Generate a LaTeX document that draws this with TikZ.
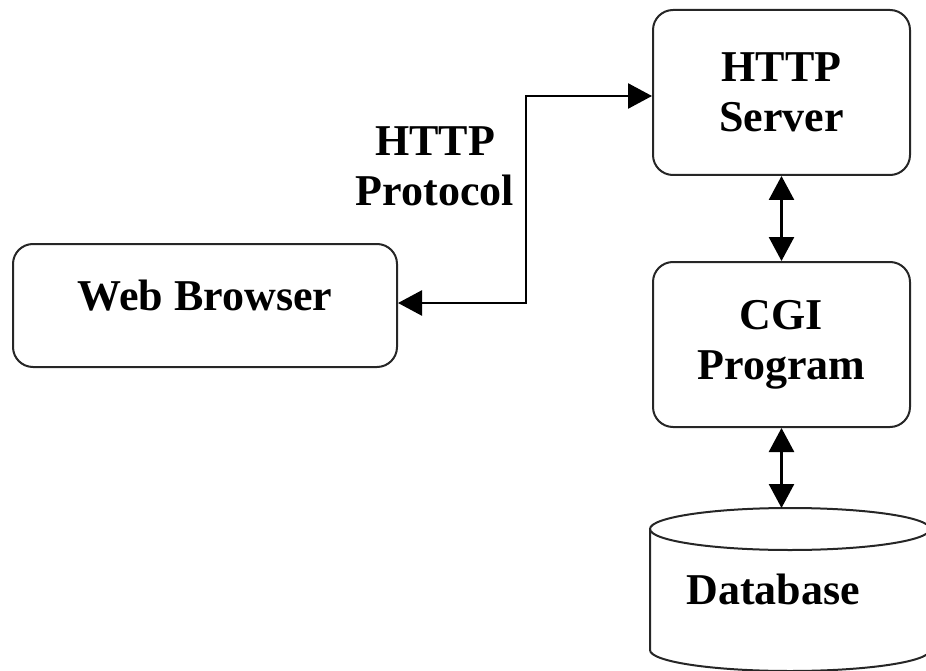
\documentclass[tikz,border=0pt]{standalone}
\usepackage{fontspec}
\setmainfont{Liberation Serif}
\usetikzlibrary{arrows.meta}
\definecolor{framecolor}{gray}{0.15}

\begin{document}
\begin{tikzpicture}[x=1pt,y=-1pt,
    bigfont/.style={font=\fontsize{44pt}{50pt}\selectfont\bfseries},
    roundbox/.style={draw=framecolor,line width=2pt,rounded corners=20pt,bigfont,align=center},
    link/.style={line width=2.6pt,{Triangle[length=24pt,width=25pt]}-{Triangle[length=24pt,width=25pt]}}]
    \useasboundingbox (0,0) rectangle (926,671);

    \node [roundbox,minimum width=257pt,minimum height=165pt] (server) at (781.5,92.5)
    {HTTP\\Server};
    \node [roundbox,minimum width=257pt,minimum height=165pt] (cgi) at (781.5,344.5)
    {CGI\\Program};
    \node [roundbox,minimum width=384pt,minimum height=123pt,text depth=20pt] (browser) at (205,305.5)
    {Web Browser};
    \node [bigfont,align=center] (proto) at (435,166) {HTTP\\Protocol};

    % database drum, cut by the page edge
    \begin{scope}
        \clip (0,0) rectangle (926,671);
        \draw [framecolor,line width=2pt] (790,529) ellipse (140 and 21);
        \draw [framecolor,line width=2pt] (650,529) -- (650,650)
            arc [start angle=180,end angle=0,x radius=140,y radius=21] -- (930,529);
    \end{scope}
    \coordinate (dbtop) at (781.5,508);
    \node [bigfont] (dblabel) at (773,589) {Database};

    \draw [link] ([yshift=2.5pt]browser.east) -- ++(128,0) |- ([yshift=-3.5pt]server.west);
    \draw [link] (server.south) -- (cgi.north);
    \draw [link] (cgi.south) -- (dbtop);
\end{tikzpicture}
\end{document}
